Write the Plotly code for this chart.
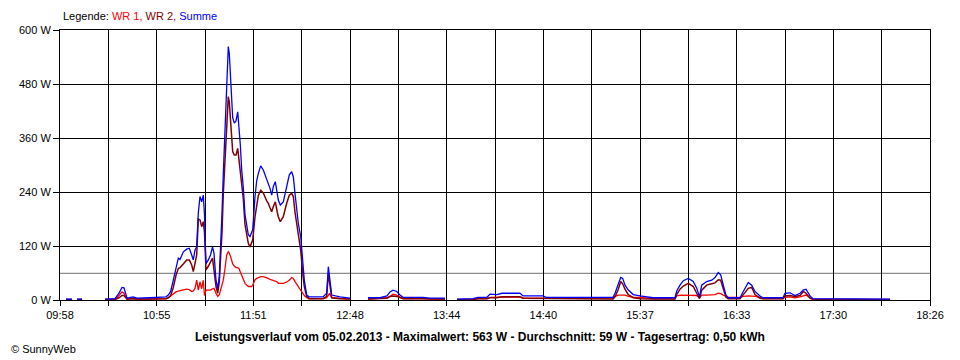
import plotly.graph_objects as go

# ---- data ----
times = [
    "10:01:30", "10:05:00", None, "10:07:56", "10:10:51", None,
    "10:24:17", "10:30:07", "10:32:27", "10:34:12", "10:35:22", "10:37:07", "10:40:38", "10:42:58",
    "10:50:33", "10:54:38", "10:59:54", "11:01:14", "11:02:38", "11:04:09", "11:05:44", "11:07:05",
    "11:08:04", "11:10:00", "11:11:59", "11:13:30", "11:14:54", "11:15:50", "11:16:50", "11:17:49",
    "11:18:45", "11:19:45", "11:20:44", "11:21:40", "11:22:22", "11:23:15", "11:24:36", "11:25:53",
    "11:27:03", "11:27:55", "11:29:05", "11:30:05", "11:31:01", "11:31:50", "11:32:36", "11:33:21",
    "11:34:21", "11:35:20", "11:36:16", "11:36:51", "11:37:40", "11:38:15", "11:38:50", "11:39:47",
    "11:40:46", "11:41:46", "11:42:31", "11:43:17", "11:44:06", "11:45:02", "11:46:01", "11:47:01",
    "11:47:57", "11:48:57", "11:49:56", "11:50:31", "11:51:52", "11:52:51", "11:53:47", "11:55:11",
    "11:56:42", "11:58:42", "11:59:38", "12:00:37", "12:01:37", "12:02:33", "12:03:43", "12:04:53",
    "12:05:28", "12:06:38", "12:08:23", "12:10:22", "12:11:53", "12:13:17", "12:14:14", "12:15:13",
    "12:17:09", "12:18:33", "12:19:43", "12:20:39", "12:22:03", "12:23:24", "12:31:34", "12:33:44",
    "12:34:40", "12:35:22", "12:36:39", "12:41:30", "12:47:20", None,
    "12:57:51", "13:04:51", "13:08:56", "13:10:41", "13:12:27", "13:14:36", "13:16:32", "13:18:17",
    "13:29:58", "13:34:03", "13:42:48", None,
    "13:49:49", "13:59:09", "14:02:04", "14:07:20", "14:09:05", "14:13:10", "14:16:05", "14:26:36",
    "14:28:21", "14:40:02", "14:41:47", "15:01:38", "15:20:54", "15:22:04", "15:24:00", "15:25:24",
    "15:26:34", "15:27:55", "15:29:50", "15:32:45", "15:36:40", "15:44:15", "15:57:06", "15:58:06",
    "16:00:01", "16:01:57", "16:04:52", "16:07:47", "16:09:47", "16:11:25", "16:12:42", "16:15:37",
    "16:18:32", "16:20:28", "16:22:23", "16:23:47", "16:25:18", "16:26:53", "16:28:14", "16:35:04",
    "16:36:59", "16:39:54", "16:41:53", "16:43:49", "16:46:44", "16:48:29", "17:00:10", "17:01:20",
    "17:04:15", "17:07:10", "17:10:06", "17:12:01", "17:13:36", "17:15:56", "17:17:41", "17:52:43",
    "18:02:39",
]

wr1 = [
    1, 1, None, 1, 1, None,
    1, 2, 10, 18, 15, 2, 4, 2,
    2, 3, 3, 5, 9, 14, 18, 20,
    21, 22, 24, 23, 19, 20, 26, 44,
    22, 40, 25, 44, 10, 22, 22, 22,
    25, 26, 15, 8, 12, 22, 30, 44,
    70, 100, 107, 104, 96, 88, 80, 75,
    72, 72, 70, 62, 55, 45, 37, 33,
    30, 30, 30, 33, 45, 48, 50, 52,
    52, 50, 48, 46, 45, 44, 42, 40,
    37, 37, 37, 40, 44, 50, 48, 41,
    30, 22, 15, 10, 5, 3, 3, 5,
    10, 15, 5, 3, 2, None,
    2, 3, 5, 8, 13, 11, 6, 3,
    3, 2, 2, None,
    1, 1, 3, 3, 6, 6, 7, 7,
    4, 4, 3, 3, 4, 8, 11, 11,
    11, 11, 8, 6, 6, 3, 3, 9,
    11, 11, 11, 11, 10, 5, 11, 11,
    12, 12, 15, 14, 11, 8, 6, 6,
    8, 9, 9, 8, 6, 3, 3, 6,
    7, 5, 7, 10, 11, 5, 2, 1,
    1,
]

wr2 = [
    1, 1, None, 1, 1, None,
    1, 1, 5, 10, 10, 2, 3, 2,
    2, 3, 3, 5, 10, 28, 55, 70,
    72, 80, 89, 89, 78, 63, 85, 100,
    180, 178, 163, 174, 150, 67, 75, 85,
    93, 67, 30, 15, 40, 100, 150, 236,
    304, 400, 452, 440, 395, 360, 330, 322,
    322, 337, 311, 285, 255, 225, 168, 141,
    126, 118, 128, 133, 185, 215, 232, 244,
    238, 220, 215, 205, 196, 208, 218, 195,
    185, 174, 185, 215, 233, 237, 230, 195,
    141, 111, 59, 30, 8, 3, 3, 8,
    59, 35, 5, 3, 2, None,
    2, 3, 4, 8, 9, 8, 5, 3,
    3, 2, 2, None,
    1, 1, 3, 3, 5, 5, 7, 7,
    4, 4, 3, 3, 2, 7, 24, 41,
    36, 24, 12, 5, 3, 2, 2, 12,
    24, 31, 37, 30, 15, 3, 22, 33,
    36, 38, 45, 44, 25, 6, 3, 3,
    12, 26, 28, 12, 4, 3, 3, 9,
    10, 8, 10, 19, 15, 4, 1, 1,
    1,
]

summe = [
    2, 2, None, 2, 2, None,
    2, 3, 15, 28, 27, 4, 7, 4,
    5, 6, 7, 11, 19, 44, 74, 93,
    90, 107, 113, 115, 100, 89, 111, 118,
    193, 230, 218, 233, 190, 81, 89, 100,
    118, 104, 44, 25, 52, 118, 193, 280,
    378, 474, 563, 548, 489, 452, 405, 393,
    398, 418, 385, 345, 289, 250, 190, 165,
    145, 141, 150, 156, 230, 265, 281, 298,
    289, 270, 260, 248, 233, 252, 263, 233,
    222, 211, 218, 252, 278, 285, 274, 237,
    170, 141, 89, 44, 11, 7, 7, 15,
    74, 55, 11, 7, 4, None,
    5, 5, 9, 18, 22, 19, 11, 6,
    6, 4, 4, None,
    2, 3, 6, 6, 13, 12, 15, 15,
    9, 9, 6, 6, 6, 15, 37, 50,
    48, 33, 22, 12, 9, 5, 5, 20,
    33, 43, 48, 41, 26, 7, 33, 41,
    44, 50, 61, 56, 33, 11, 5, 5,
    19, 39, 33, 19, 9, 5, 5, 15,
    16, 10, 15, 22, 24, 9, 3, 3,
    2,
]

average_w = 59
tick_labels = ["09:58", "10:55", "11:51", "12:48", "13:44", "14:40", "15:37", "16:33", "17:30", "18:26"]
y_ticks = [0, 120, 240, 360, 480, 600]
title_text = ("Leistungsverlauf vom 05.02.2013 - Maximalwert: 563 W - Durchschnitt: 59 W"
              " - Tagesertrag: 0,50 kWh")


def to_min(t):
    if t is None:
        return None
    h, m, s = t.split(":")
    return int(h) * 60 + int(m) + int(s) / 60.0


x = [to_min(t) for t in times]

start = to_min(tick_labels[0] + ":00")
end = to_min(tick_labels[-1] + ":00")
n_int = (len(tick_labels) - 1) * 2
step = (end - start) / n_int
tickvals = [start + i * step for i in range(n_int + 1)]
ticktext = [tick_labels[i // 2] if i % 2 == 0 else "" for i in range(n_int + 1)]

FONT = "Liberation Sans, Arial, sans-serif"

# page body has an 8px margin: figure is placed at (8, 8)
OFF = 8
PL, PT, PW, PH = 60 - OFF, 30 - OFF, 870, 270
FW, FH = 960 - OFF, 360 - OFF


def px_x(p):
    return (p - 60) / PW


def px_y(p):
    return (300 - p) / PH


fig = go.Figure()
fig.add_trace(go.Scatter(x=x, y=wr1, mode="lines", name="WR 1",
                         line=dict(color="#FF0000", width=1.3), connectgaps=False))
fig.add_trace(go.Scatter(x=x, y=wr2, mode="lines", name="WR 2",
                         line=dict(color="#800000", width=1.5), connectgaps=False))
fig.add_trace(go.Scatter(x=x, y=summe, mode="lines", name="Summe",
                         line=dict(color="#0000FF", width=1.3), connectgaps=False))

fig.add_shape(type="line", xref="paper", x0=0, x1=1, yref="y", y0=average_w, y1=average_w,
              line=dict(color="#8C8C8C", width=1.3), layer="below")

fig.update_layout(
    width=FW, height=FH,
    margin=dict(l=PL, r=FW - PL - PW, t=PT, b=FH - PT - PH, pad=0),
    paper_bgcolor="white", plot_bgcolor="white",
    showlegend=False,
    font=dict(family=FONT, size=11, color="black"),
    xaxis=dict(range=[start, end], tickmode="array", tickvals=tickvals, ticktext=ticktext,
               showgrid=True, gridcolor="black", gridwidth=1,
               showline=True, linecolor="black", linewidth=1, mirror=True,
               ticks="outside", ticklen=5, tickcolor="black", tickwidth=1,
               zeroline=False, tickfont=dict(size=11, family=FONT)),
    yaxis=dict(range=[0, 600], tickmode="array", tickvals=y_ticks,
               ticktext=[f"{v} W" for v in y_ticks],
               showgrid=True, gridcolor="black", gridwidth=1,
               showline=True, linecolor="black", linewidth=1, mirror=True,
               ticks="outside", ticklen=6, tickcolor="black", tickwidth=1,
               zeroline=False, tickfont=dict(size=11, family=FONT)),
    annotations=[
        dict(xref="paper", yref="paper", x=px_x(61), y=px_y(16),
             xanchor="left", yanchor="middle", showarrow=False,
             text=("Legende: <span style='color:#FF0000'>WR 1,</span> "
                   "<span style='color:#800000'>WR 2,</span> "
                   "<span style='color:#0000FF'>Summe</span>"),
             font=dict(size=11, family=FONT, color="black")),
        dict(xref="paper", yref="paper", x=px_x(480), y=px_y(337),
             xanchor="center", yanchor="middle", showarrow=False,
             text="<b>" + title_text + "</b>",
             font=dict(size=12, family=FONT, color="black")),
        dict(xref="paper", yref="paper", x=px_x(9), y=px_y(349),
             xanchor="left", yanchor="middle", showarrow=False,
             text="© SunnyWeb", font=dict(size=11, family=FONT, color="black")),
    ],
)

fig.write_html("out.html")
